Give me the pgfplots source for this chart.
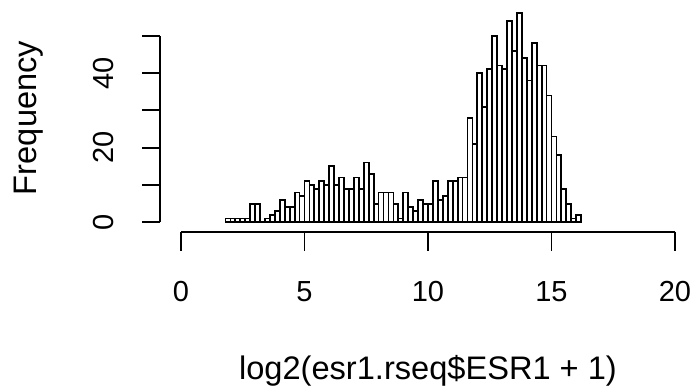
\documentclass[border=0pt]{standalone}
\usepackage{pgfplots}
\pgfplotsset{compat=1.18}
\usepackage{pgfplotstable}
\usepackage{fontspec}
\setmainfont{Liberation Sans}
\pgfplotstableread{
x y
1.8 1
2.0 1
2.2 1
2.4 1
2.6 1
2.8 5
3.0 5
3.2 0
3.4 1
3.6 2
3.8 3
4.0 6
4.2 4
4.4 4
4.6 8
4.8 7
5.0 11
5.2 10
5.4 9
5.6 11
5.8 10
6.0 15
6.2 10
6.4 12
6.6 9
6.8 9
7.0 12
7.2 9
7.4 16
7.6 13
7.8 5
8.0 8
8.2 8
8.4 8
8.6 5
8.8 1
9.0 8
9.2 4
9.4 3
9.6 6
9.8 5
10.0 5
10.2 11
10.4 6
10.6 7
10.8 11
11.0 11
11.2 12
11.4 12
11.6 28
11.8 21
12.0 40
12.2 31
12.4 41
12.6 50
12.8 42
13.0 41
13.2 54
13.4 46
13.6 56
13.8 44
14.0 38
14.2 48
14.4 42
14.6 42
14.8 34
15.0 23
15.2 18
15.4 9
15.6 5
15.8 1
16.0 2
16.2 0
}\hist
\begin{document}
\begin{tikzpicture}
\begin{axis}[
  name=main,
  scale only axis, width=697pt, height=387pt,
  xmin=-7.328, xmax=20.891, ymin=-44.13, ymax=59.57,
  axis lines=none, clip=false,
]
\addplot[ybar interval, fill=white, draw=black, line width=1.8pt] table[x=x,y=y] {\hist};
% x axis
\draw[line width=1.8pt] (axis cs:0,-2.52) -- (axis cs:20,-2.52);
\pgfplotsinvokeforeach{0,5,10,15,20}{
  \draw[line width=1.8pt] (axis cs:#1,-2.52) -- (axis cs:#1,-7.69);
  \node[anchor=base, inner sep=0pt, font=\fontsize{29}{34}\selectfont] at (axis cs:#1,-21.22) {#1};
}
% y axis
\draw[line width=1.8pt] (axis cs:-0.85,0) -- (axis cs:-0.85,50);
\pgfplotsinvokeforeach{0,10,20,30,40,50}{
  \draw[line width=1.8pt] (axis cs:-0.85,#1) -- (axis cs:-1.591,#1);
}
\pgfplotsinvokeforeach{0,20,40}{
  \node[rotate=90, anchor=base, inner sep=0pt, font=\fontsize{29}{34}\selectfont] at (axis cs:-2.725,#1) {#1};
}
\node[rotate=90, anchor=base, inner sep=0pt, font=\fontsize{32.6}{38}\selectfont] at (axis cs:-5.85,27.95) {Frequency};
\node[anchor=base, inner sep=0pt, font=\fontsize{32.6}{38}\selectfont] at (axis cs:10.0,-41.99) {log2(esr1.rseq\$ESR1 + 1)};
\end{axis}
\pgfresetboundingbox
\path[use as bounding box] (main.south west) rectangle (main.north east);
\end{tikzpicture}
\end{document}
